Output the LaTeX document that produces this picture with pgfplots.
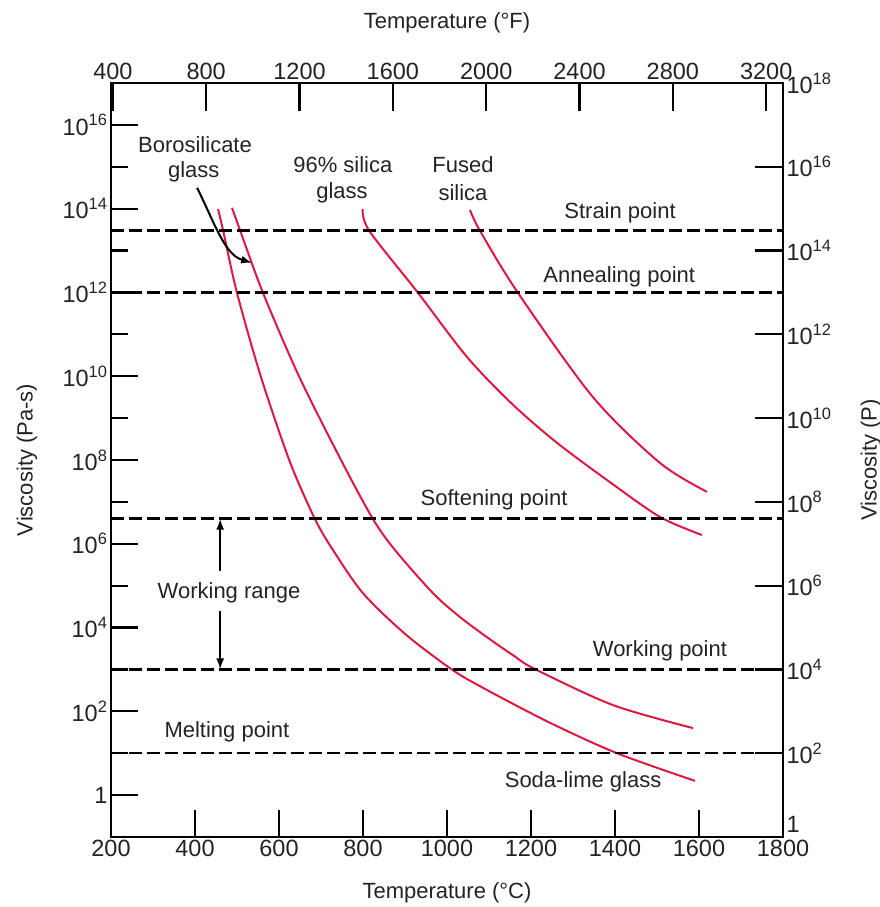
\documentclass[border=0pt]{standalone}
\usepackage{fontspec}
\setmainfont{Liberation Sans}
\usepackage{pgfplots}
\pgfplotsset{compat=1.18}
\usetikzlibrary{arrows.meta}

\definecolor{glasscurve}{RGB}{222,24,64}
\definecolor{ink}{RGB}{35,35,35}
\newcommand{\ticksize}{\fontsize{23.5}{26}\selectfont}
\newcommand{\labsize}{\fontsize{22}{25}\selectfont}

\pgfplotsset{
  frame/.style={
    scale only axis, width=672pt, height=754pt,
    axis line style={line width=2.2pt, black},
    tick style={line width=2.2pt, black},
    tick label style={font=\ticksize, text=ink},
    label style={font=\labsize, text=ink},
  },
  visc/.style={glasscurve, line width=2pt, smooth},
  fixpt/.style={black, line width=2.2pt, dash pattern=on 13pt off 5pt},
}

\begin{document}
\begin{tikzpicture}
% Celsius / Pa-s frame
\begin{axis}[frame,
  xmin=200, xmax=1800, ymode=log, ymin=1e-1, ymax=1e17,
  xtick={200,400,600,800,1000,1200,1400,1600,1800},
  xticklabels={200,400,600,800,1000,1200,1400,1600,1800},
  xtick pos=bottom,
  ytick={1,1e2,1e4,1e6,1e8,1e10,1e12,1e14,1e16},
  yticklabels={1,10\textsuperscript{2},10\textsuperscript{4},10\textsuperscript{6},10\textsuperscript{8},10\textsuperscript{10},10\textsuperscript{12},10\textsuperscript{14},10\textsuperscript{16}},
  minor ytick={1e1,1e3,1e5,1e7,1e9,1e11,1e13,1e15},
  ytick pos=left,
  tick align=inside,
  major tick length=27pt, minor tick length=17pt,
  xlabel={Temperature (°C)}, ylabel={Viscosity (Pa-s)},
  xlabel style={at={(axis description cs:0.5,-0.0743)}, anchor=center},
  ylabel style={at={(axis description cs:-0.125,0.5)}, anchor=center},
  clip=false,
]
\coordinate (sw) at (rel axis cs:0,0);

% soda-lime glass
\addplot[visc] coordinates {
  (454.8,9.77e13) (466.7,3.09e13) (500,9.77e11) (557.1,9.55e9)
  (626.2,8.91e7) (685.7,3.89e6) (728.6,7.08e5) (800,6.61e4)
  (900,7.08e3) (1007.1,1.07e3) (1078.6,398) (1240.5,56.2)
  (1404.8,10) (1590.5,2.19)};
% borosilicate glass
\addplot[visc] coordinates {
  (488.1,1.05e14) (507.1,3.09e13) (561.9,9.77e11) (647.6,1e10)
  (747.6,1e8) (823.8,3.89e6) (876.2,7.08e5) (966.7,6.61e4)
  (1031,1.78e4) (1095.2,5.89e3) (1157.1,2.19e3) (1209.5,1.02e3)
  (1395.2,141) (1585.7,39.8)};
% 96% silica glass
\addplot[visc] coordinates {
  (799,9.77e13) (815,2.95e13) (931,9.77e11) (1047.6,2.88e10)
  (1154.8,2.19e9) (1261.9,2.57e8) (1388.1,2.95e7) (1507.1,4.37e6)
  (1607.1,1.62e6)};
% fused silica
\addplot[visc] coordinates {
  (1054.8,9.33e13) (1078.6,2.95e13) (1169,9.77e11) (1347.6,3.16e9)
  (1507.1,8.51e7) (1619,1.74e7)};

% reference viscosities
\addplot[fixpt] coordinates {(200,3e13) (1800,3e13)};
\addplot[fixpt] coordinates {(200,1e12) (1800,1e12)};
\addplot[fixpt] coordinates {(200,4e6) (1800,4e6)};
\addplot[fixpt] coordinates {(200,1e3) (1800,1e3)};
\addplot[fixpt] coordinates {(200,10) (1800,10)};

\begin{scope}[every node/.style={font=\labsize, text=ink}]
\node at (axis cs:400,3.3e15) {Borosilicate};
\node at (axis cs:397,7.6e14) {glass};
\node at (axis cs:752,1.12e15) {96\% silica};
\node at (axis cs:750,2.4e14) {glass};
\node at (axis cs:1038,1.12e15) {Fused};
\node at (axis cs:1038,2.4e14) {silica};
\node at (axis cs:1412,7.9e13) {Strain point};
\node at (axis cs:1410,2.3e12) {Annealing point};
\node at (axis cs:1112,1.12e7) {Softening point};
\node at (axis cs:1507,2.8e3) {Working point};
\node at (axis cs:476,33) {Melting point};
\node at (axis cs:1324,2.04) {Soda-lime glass};
\node at (axis cs:481,6.8e4) {Working range};
\end{scope}

% working range span
\draw[line width=2pt, -{Latex[length=11pt,width=8pt]}] (axis cs:460,2.3e5) -- (axis cs:460,4e6);
\draw[line width=2pt, -{Latex[length=11pt,width=8pt]}] (axis cs:460,2.5e4) -- (axis cs:460,1e3);
% pointer to the borosilicate curve
\draw[line width=2pt, -{Latex[length=11pt,width=8pt]}]
  (axis cs:405,3.16e14) .. controls (axis cs:448,4.2e13) and (axis cs:471,7.9e12) .. (axis cs:536,5.1e12);
\end{axis}

% Fahrenheit / poise frame
\begin{axis}[frame,
  xmin=392, xmax=3272, ymode=log, ymin=1, ymax=1e18,
  axis x line*=top, axis y line*=right,
  xtick={400,800,1200,1600,2000,2400,2800,3200},
  xticklabels={400,800,1200,1600,2000,2400,2800,3200},
  ytick={1,1e2,1e4,1e6,1e8,1e10,1e12,1e14,1e16,1e18},
  yticklabels={\raisebox{5pt}[0pt][0pt]{1},10\textsuperscript{2},10\textsuperscript{4},10\textsuperscript{6},10\textsuperscript{8},10\textsuperscript{10},10\textsuperscript{12},10\textsuperscript{14},10\textsuperscript{16},10\textsuperscript{18}},
  tick align=inside,
  major tick length=28pt,
  xlabel={Temperature (°F)}, ylabel={Viscosity (P)},
  xlabel style={at={(axis description cs:0.5,1.0796)}, anchor=center},
  ylabel style={at={(axis description cs:1.131,0.5)}, anchor=center},
]
\end{axis}

\pgfresetboundingbox
\path[use as bounding box] (sw) ++(-111pt,-70pt) rectangle ++(880pt,907pt);
\end{tikzpicture}
\end{document}
